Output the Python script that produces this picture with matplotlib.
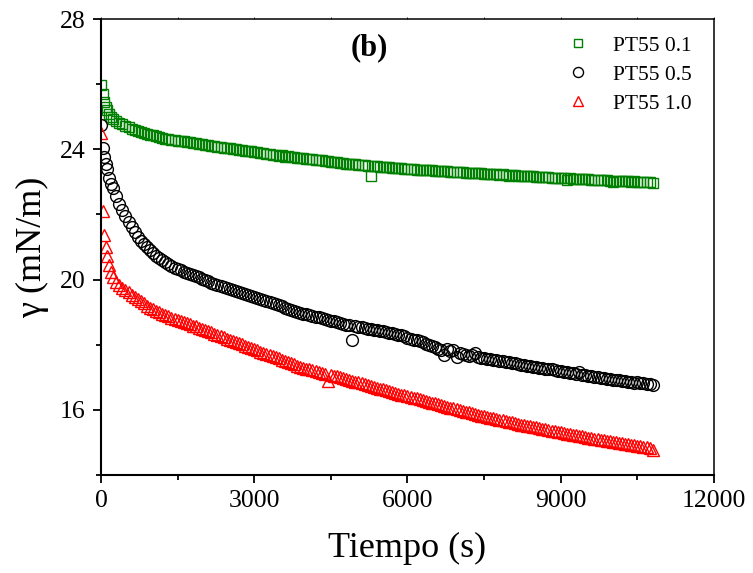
import numpy as np
import matplotlib
matplotlib.use('Agg')
import matplotlib.pyplot as plt
from matplotlib.ticker import MultipleLocator

plt.rcParams['font.family'] = ['Liberation Serif', 'DejaVu Serif']

# Time (s)
time_s = [0, 30, 60, 90, 120, 160, 200, 240, 300,
          360, 420, 480, 540, 600, 660, 720, 780, 840, 900, 960, 1020, 1080, 1140, 1200,
          1260, 1320, 1380, 1440, 1500, 1560, 1620, 1680, 1740, 1800, 1860, 1920, 1980, 2040, 2100,
          2160, 2220, 2280, 2340, 2400, 2460, 2520, 2580, 2640, 2700, 2760, 2820, 2880, 2940, 3000,
          3060, 3120, 3180, 3240, 3300, 3360, 3420, 3480, 3540, 3600, 3660, 3720, 3780, 3840, 3900,
          3960, 4020, 4080, 4140, 4200, 4260, 4320, 4380, 4440, 4500, 4560, 4620, 4680, 4740, 4800,
          4860, 4920, 4980, 5040, 5100, 5160, 5220, 5280, 5340, 5400, 5460, 5520, 5580, 5640, 5700,
          5760, 5820, 5880, 5940, 6000, 6060, 6120, 6180, 6240, 6300, 6360, 6420, 6480, 6540, 6600,
          6660, 6720, 6780, 6840, 6900, 6960, 7020, 7080, 7140, 7200, 7260, 7320, 7380, 7440, 7500,
          7560, 7620, 7680, 7740, 7800, 7860, 7920, 7980, 8040, 8100, 8160, 8220, 8280, 8340, 8400,
          8460, 8520, 8580, 8640, 8700, 8760, 8820, 8880, 8940, 9000, 9060, 9120, 9180, 9240, 9300,
          9360, 9420, 9480, 9540, 9600, 9660, 9720, 9780, 9840, 9900, 9960, 10020, 10080, 10140, 10200,
          10260, 10320, 10380, 10440, 10500, 10560, 10620, 10680, 10740, 10800]

# surface tension (mN/m)
pt55_01 = [25.97, 25.70, 25.45, 25.30, 25.20, 25.08, 24.99, 24.92, 24.86,
           24.82, 24.78, 24.72, 24.68, 24.63, 24.60, 24.55, 24.53, 24.49, 24.47, 24.44, 24.43, 24.40, 24.37, 24.36,
           24.33, 24.32, 24.30, 24.29, 24.27, 24.26, 24.25, 24.23, 24.21, 24.20, 24.19, 24.16, 24.17, 24.13, 24.12,
           24.10, 24.09, 24.07, 24.07, 24.05, 24.04, 24.03, 24.02, 24.00, 23.99, 23.98, 23.96, 23.95, 23.94, 23.93,
           23.91, 23.88, 23.89, 23.86, 23.87, 23.82, 23.84, 23.79, 23.81, 23.77, 23.79, 23.75, 23.76, 23.73, 23.74,
           23.72, 23.71, 23.69, 23.70, 23.68, 23.66, 23.66, 23.64, 23.63, 23.62, 23.61, 23.60, 23.59, 23.57, 23.56,
           23.56, 23.55, 23.54, 23.53, 23.52, 23.51, 23.50, 23.18, 23.50, 23.48, 23.47, 23.46, 23.47, 23.45, 23.44,
           23.43, 23.44, 23.42, 23.41, 23.40, 23.40, 23.39, 23.38, 23.38, 23.37, 23.36, 23.35, 23.36, 23.34, 23.34,
           23.33, 23.33, 23.32, 23.31, 23.30, 23.31, 23.29, 23.30, 23.28, 23.27, 23.28, 23.26, 23.27, 23.26, 23.25,
           23.25, 23.24, 23.24, 23.23, 23.22, 23.23, 23.21, 23.17, 23.21, 23.20, 23.19, 23.19, 23.18, 23.18, 23.17,
           23.17, 23.16, 23.16, 23.15, 23.14, 23.15, 23.13, 23.13, 23.12, 23.12, 23.11, 23.07, 23.11, 23.10, 23.10,
           23.09, 23.09, 23.08, 23.08, 23.07, 23.07, 23.06, 23.06, 23.05, 23.05, 23.04, 23.01, 23.04, 23.03, 23.03,
           23.02, 23.02, 23.01, 23.03, 23.01, 23.00, 23.00, 23.01, 22.99, 22.98]

pt55_05 = [24.75, 24.05, 23.75, 23.55, 23.40, 23.13, 22.95, 22.80, 22.57,
           22.33, 22.14, 21.95, 21.78, 21.62, 21.45, 21.30, 21.18, 21.08, 20.99, 20.90, 20.81, 20.73, 20.66, 20.60,
           20.54, 20.48, 20.42, 20.37, 20.32, 20.28, 20.24, 20.21, 20.17, 20.14, 20.10, 20.07, 20.03, 19.99, 19.95,
           19.91, 19.87, 19.84, 19.80, 19.77, 19.74, 19.71, 19.67, 19.64, 19.61, 19.58, 19.55, 19.52, 19.49, 19.46,
           19.43, 19.40, 19.37, 19.34, 19.31, 19.28, 19.25, 19.22, 19.18, 19.13, 19.10, 19.07, 19.03, 19.00, 18.97,
           18.95, 18.93, 18.91, 18.88, 18.86, 18.84, 18.82, 18.79, 18.77, 18.74, 18.72, 18.69, 18.67, 18.64, 18.62,
           18.60, 18.15, 18.57, 18.55, 18.53, 18.51, 18.49, 18.48, 18.46, 18.44, 18.43, 18.41, 18.39, 18.36, 18.35,
           18.33, 18.31, 18.29, 18.26, 18.22, 18.18, 18.15, 18.14, 18.12, 18.07, 18.02, 17.99, 17.96, 17.92, 17.88,
           17.84, 17.70, 17.86, 17.80, 17.83, 17.62, 17.76, 17.72, 17.70, 17.66, 17.68, 17.75, 17.62, 17.60, 17.59,
           17.57, 17.55, 17.54, 17.52, 17.51, 17.49, 17.48, 17.46, 17.45, 17.43, 17.41, 17.39, 17.38, 17.36, 17.34,
           17.33, 17.31, 17.30, 17.28, 17.27, 17.25, 17.24, 17.22, 17.20, 17.19, 17.17, 17.16, 17.14, 17.13, 17.11,
           17.16, 17.08, 17.06, 17.05, 17.03, 17.02, 17.00, 16.99, 16.98, 16.96, 16.95, 16.93, 16.92, 16.91, 16.90,
           16.88, 16.87, 16.86, 16.83, 16.85, 16.82, 16.81, 16.79, 16.78, 16.77]

pt55_10 = [24.50, 22.10, 21.37, 21.00, 20.72, 20.45, 20.22, 20.08, 19.92,
           19.82, 19.75, 19.68, 19.61, 19.54, 19.47, 19.40, 19.33, 19.27, 19.20, 19.14, 19.09, 19.04, 18.99, 18.95,
           18.91, 18.87, 18.83, 18.80, 18.76, 18.73, 18.70, 18.66, 18.63, 18.59, 18.56, 18.52, 18.49, 18.45, 18.41,
           18.38, 18.34, 18.30, 18.27, 18.23, 18.19, 18.16, 18.12, 18.08, 18.05, 18.01, 17.97, 17.94, 17.90, 17.87,
           17.83, 17.79, 17.76, 17.72, 17.69, 17.65, 17.62, 17.58, 17.54, 17.50, 17.47, 17.43, 17.40, 17.36, 17.33,
           17.30, 17.27, 17.24, 17.21, 17.19, 17.16, 17.13, 17.10, 16.88, 17.06, 17.05, 17.03, 17.00, 16.98, 16.95,
           16.93, 16.90, 16.87, 16.85, 16.82, 16.79, 16.76, 16.73, 16.71, 16.68, 16.65, 16.63, 16.60, 16.58, 16.55,
           16.52, 16.50, 16.47, 16.45, 16.42, 16.40, 16.37, 16.35, 16.32, 16.30, 16.27, 16.25, 16.22, 16.20, 16.17,
           16.15, 16.12, 16.10, 16.07, 16.05, 16.02, 16.00, 15.97, 15.95, 15.92, 15.90, 15.87, 15.85, 15.82, 15.80,
           15.78, 15.76, 15.74, 15.72, 15.70, 15.68, 15.66, 15.64, 15.62, 15.60, 15.57, 15.55, 15.53, 15.51, 15.50,
           15.48, 15.46, 15.44, 15.42, 15.40, 15.38, 15.36, 15.35, 15.33, 15.31, 15.29, 15.27, 15.25, 15.24, 15.22,
           15.20, 15.19, 15.17, 15.15, 15.13, 15.12, 15.10, 15.08, 15.07, 15.05, 15.03, 15.02, 15.00, 14.98, 14.97,
           14.95, 14.94, 14.92, 14.91, 14.89, 14.88, 14.87, 14.86, 14.84, 14.78]

fig = plt.figure(figsize=(7.53, 5.73), dpi=100)
ax = fig.add_axes([0.1341, 0.1710, 0.8141, 0.7958])

ax.plot(time_s, pt55_01, 's', mfc='none', mec='#008000', ms=7.5, mew=1.0, label='PT55 0.1')
ax.plot(time_s, pt55_05, 'o', mfc='none', mec='black', ms=8.5, mew=1.0, label='PT55 0.5')
ax.plot(time_s, pt55_10, '^', mfc='none', mec='red', ms=8.5, mew=1.0, label='PT55 1.0')

ax.set_xlim(0, 12000)
ax.set_ylim(14, 28)
ax.xaxis.set_major_locator(MultipleLocator(3000))
ax.xaxis.set_minor_locator(MultipleLocator(1500))
ax.yaxis.set_major_locator(MultipleLocator(4))
ax.yaxis.set_minor_locator(MultipleLocator(2))

ax.spines['left'].set_linewidth(1.5)
ax.spines['bottom'].set_linewidth(1.5)
ax.spines['top'].set_linewidth(1.1)
ax.spines['right'].set_linewidth(1.1)
ax.tick_params(which='major', direction='out', length=6, width=1.3, labelsize=18.5, pad=5)
ax.tick_params(which='minor', direction='out', length=3.5, width=1.3)
ax.tick_params(axis='y', which='both', right=False)
ax.tick_params(axis='x', which='both', top=True, bottom=True)
# faint little marks on the top spine
for t in ax.xaxis.get_ticklines(minor=False)[1::2] + ax.xaxis.get_ticklines(minor=True)[1::2]:
    t.set_markersize(1.5)
    t.set_color('#888888')
    t.set_markeredgewidth(0.6)

ax.set_xlabel('Tiempo (s)', fontsize=26, labelpad=14)
ax.set_ylabel('γ (mN/m)', fontsize=26, labelpad=8)

ax.text(0.437, 0.936, '(b)', transform=ax.transAxes, fontsize=22, fontweight='bold',
        ha='center', va='center')

ax.legend(loc='upper right', bbox_to_anchor=(0.995, 1.006), frameon=False, fontsize=15.5,
          handletextpad=0.6, labelspacing=0.42, markerscale=0.85)

fig.savefig('out.png', dpi=100)
